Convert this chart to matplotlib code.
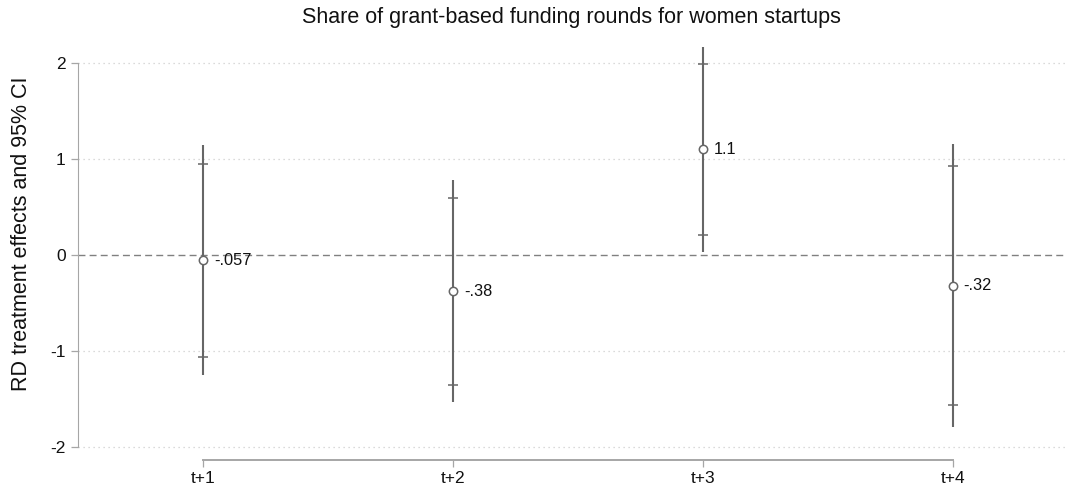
import matplotlib
matplotlib.use("Agg")
import matplotlib.pyplot as plt

plt.rcParams["font.family"] = ["Liberation Sans", "DejaVu Sans"]

# RD estimates by horizon
periods = ["t+1", "t+2", "t+3", "t+4"]
coef = [-0.057, -0.38, 1.1, -0.32]
ci95_low = [-1.25, -1.53, 0.035, -1.79]
ci95_high = [1.146, 0.78, 2.17, 1.16]
ci90_low = [-1.06, -1.354, 0.208, -1.5625]
ci90_high = [0.948, 0.59, 1.99, 0.927]
coef_labels = ["-.057", "-.38", "1.1", "-.32"]

line_col = "#666666"
axis_col = "#a6a6a6"
text_col = "#111111"

fig = plt.figure(figsize=(10.72, 4.93), dpi=100)
ax = fig.add_axes([0.0728, 0.0933, 0.9207, 0.8178])

x = list(range(1, len(periods) + 1))

# reference gridlines and zero line
for yv in [-2, -1, 1, 2]:
    ax.axhline(yv, color="#cfcfcf", linestyle=(0, (1, 3)), linewidth=0.9, zorder=0,
               clip_on=False)
ax.axhline(0, color="#808080", linestyle=(0, (5, 3)), linewidth=1.0, zorder=1)

# 95% intervals
ax.vlines(x, ci95_low, ci95_high, color=line_col, linewidth=1.5, zorder=2)
# 90% interval caps
ax.scatter(x, ci90_low, marker="_", s=45, color=line_col, linewidths=1.1, zorder=3)
ax.scatter(x, ci90_high, marker="_", s=45, color=line_col, linewidths=1.1, zorder=3)
# point estimates
ax.scatter(x, coef, marker="o", s=36, facecolor="white", edgecolor=line_col,
           linewidths=1.1, zorder=4)

for xi, yi, lab in zip(x, coef, coef_labels):
    ax.annotate(lab, (xi, yi), xytext=(8, 0), textcoords="offset points",
                ha="left", va="center", fontsize=11.8, color=text_col)

ax.set_xlim(0.5, 4.45)
ax.set_ylim(-2, 2.2)

for side in ["top", "right"]:
    ax.spines[side].set_visible(False)
ax.spines["left"].set_bounds(-2, 2)
ax.spines["left"].set_color(axis_col)
ax.spines["bottom"].set_bounds(1, 4)
ax.spines["bottom"].set_color(axis_col)
ax.spines["bottom"].set_position(("outward", 9.5))
ax.spines["bottom"].set_linewidth(1.4)

ax.set_yticks([-2, -1, 0, 1, 2])
ax.set_yticklabels(["-2", "-1", "0", "1", "2"])
ax.set_xticks(x)
ax.set_xticklabels(periods)
ax.tick_params(axis="both", colors=axis_col, labelcolor=text_col, labelsize=12.5,
               length=5, width=0.9)
ax.tick_params(axis="x", pad=3)
ax.tick_params(axis="y", pad=4)

ax.set_ylabel("RD treatment effects and 95% CI", fontsize=15.5, color=text_col)
ax.yaxis.set_label_coords(-0.047, 0.53)
fig.suptitle("Share of grant-based funding rounds for women startups",
             x=0.533, y=0.985, fontsize=15.5, color=text_col)

fig.savefig("out.png", dpi=100)
